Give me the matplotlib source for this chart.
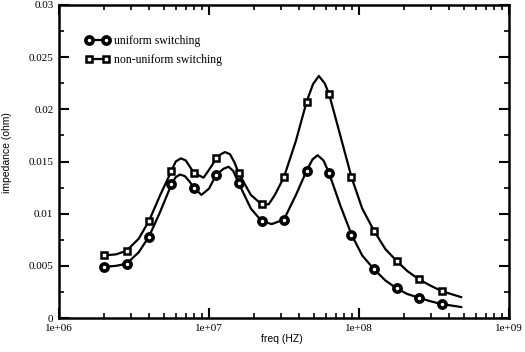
import matplotlib
matplotlib.use("Agg")
import matplotlib.pyplot as plt
from matplotlib.lines import Line2D
from matplotlib.ticker import FixedLocator, LogLocator, NullFormatter, FixedFormatter

# ---------------- data ----------------
# marker positions (Hz)
f_markers = [2.0e6, 2.82e6, 3.98e6, 5.62e6, 7.94e6, 1.12e7, 1.58e7, 2.24e7,
             3.16e7, 4.47e7, 6.31e7, 8.91e7, 1.26e8, 1.78e8, 2.51e8, 3.55e8]
uniform_markers = [0.0049, 0.0052, 0.0078, 0.0128, 0.0125, 0.01375, 0.0129, 0.0093,
                   0.00944, 0.0141, 0.0139, 0.0080, 0.00466, 0.00284, 0.00194, 0.00134]
nonuniform_markers = [0.0060, 0.00644, 0.0093, 0.0141, 0.01394, 0.0153, 0.01385, 0.0109,
                      0.0135, 0.0207, 0.0215, 0.01352, 0.00835, 0.00548, 0.0037, 0.00258]

# smooth curves (Hz, ohm)
f_uniform_curve = [2.0e6, 2.4e6, 2.82e6, 3.4e6, 3.98e6, 4.7e6, 5.62e6, 6.0e6, 6.4e6, 6.9e6,
                   7.4e6, 7.94e6, 8.9e6, 1.0e7, 1.12e7, 1.25e7, 1.35e7, 1.45e7, 1.58e7,
                   1.9e7, 2.24e7, 2.62e7, 3.16e7, 3.8e7, 4.47e7, 4.9e7, 5.3e7, 5.8e7,
                   6.31e7, 7.5e7, 8.91e7, 1.05e8, 1.26e8, 1.5e8, 1.78e8, 2.1e8, 2.51e8,
                   3.0e8, 3.55e8, 4.8e8]
v_uniform_curve = [0.0049, 0.0050, 0.0052, 0.0063, 0.0078, 0.0101, 0.0128, 0.0135, 0.01375,
                   0.0136, 0.0131, 0.0125, 0.0118, 0.0124, 0.01375, 0.0143, 0.0145, 0.0141,
                   0.0129, 0.0105, 0.0093, 0.0090, 0.00944, 0.0118, 0.0141, 0.0152, 0.0156,
                   0.0151, 0.0139, 0.0108, 0.0080, 0.0060, 0.00466, 0.0036, 0.00284, 0.0023,
                   0.00194, 0.0016, 0.00134, 0.00105]

f_nonuniform_curve = [2.0e6, 2.4e6, 2.82e6, 3.4e6, 3.98e6, 4.7e6, 5.62e6, 6.0e6, 6.5e6, 7.0e6,
                      7.94e6, 9.2e6, 1.0e7, 1.12e7, 1.2e7, 1.28e7, 1.38e7, 1.48e7, 1.58e7,
                      1.9e7, 2.24e7, 2.5e7, 2.75e7, 3.16e7, 3.8e7, 4.47e7, 4.93e7, 5.4e7,
                      5.9e7, 6.31e7, 7.5e7, 8.91e7, 1.05e8, 1.26e8, 1.5e8, 1.78e8, 2.1e8,
                      2.51e8, 3.0e8, 3.55e8, 4.8e8]
v_nonuniform_curve = [0.0060, 0.0061, 0.00644, 0.0076, 0.0093, 0.0117, 0.0141, 0.0150, 0.0153,
                      0.0151, 0.0139, 0.01345, 0.0142, 0.0153, 0.0157, 0.0159, 0.0157, 0.0149,
                      0.01385, 0.0118, 0.0109, 0.0109, 0.0118, 0.0135, 0.0170, 0.0207, 0.0224,
                      0.0232, 0.0225, 0.0215, 0.0175, 0.0135, 0.0105, 0.00835, 0.0066, 0.00548,
                      0.0045, 0.0037, 0.0031, 0.00258, 0.0020]

series_labels = ["uniform switching", "non-uniform switching"]
x_tick_values = [1e6, 1e7, 1e8, 1e9]
x_tick_labels = ["1e+06", "1e+07", "1e+08", "1e+09"]
y_tick_values = [0, 0.005, 0.01, 0.015, 0.02, 0.025, 0.03]
y_tick_labels = ["0", "0.005", "0.01", "0.015", "0.02", "0.025", "0.03"]
x_label = "freq (HZ)"
y_label = "impedance (ohm)"

# ---------------- drawing ----------------
serif = ["Liberation Serif", "DejaVu Serif"]
sans = ["Liberation Sans", "DejaVu Sans"]

fig = plt.figure(figsize=(5.25, 3.52), dpi=100)
ax = fig.add_axes([59/525, 1-318/352, 450/525, 313/352])

lw = 1.6
circ = dict(marker="o", ms=5.2, mfc="white", mec="black", mew=2.6)
sq = dict(marker="s", ms=4.6, mfc="white", mec="black", mew=1.8)

ax.plot(f_uniform_curve, v_uniform_curve, color="black", lw=lw, zorder=2,
        solid_joinstyle="round")
ax.plot(f_nonuniform_curve, v_nonuniform_curve, color="black", lw=lw, zorder=2,
        solid_joinstyle="round")
ax.plot(f_markers, uniform_markers, ls="none", zorder=3, **circ)
ax.plot(f_markers, nonuniform_markers, ls="none", zorder=3, **sq)

ax.set_xscale("log")
ax.set_xlim(1e6, 1e9)
ax.set_ylim(0, 0.03)

ax.xaxis.set_major_locator(FixedLocator(x_tick_values))
ax.xaxis.set_major_formatter(FixedFormatter(x_tick_labels))
ax.xaxis.set_minor_locator(LogLocator(base=10, subs=range(2, 10)))
ax.xaxis.set_minor_formatter(NullFormatter())
ax.yaxis.set_major_locator(FixedLocator(y_tick_values))
ax.yaxis.set_major_formatter(FixedFormatter(y_tick_labels))
ax.yaxis.set_minor_locator(FixedLocator([0.0025, 0.0075, 0.0125, 0.0175, 0.0225, 0.0275]))

ax.tick_params(which="both", direction="in", top=True, right=True, color="black")
ax.tick_params(which="major", length=7, width=1.5)
ax.tick_params(axis="y", which="major", pad=4)
ax.tick_params(axis="x", which="major", pad=4.5)
ax.tick_params(which="minor", length=3.5, width=1.2)
for lab in ax.get_xticklabels() + ax.get_yticklabels():
    lab.set_family(serif)
    lab.set_fontsize(8)
for sp in ax.spines.values():
    sp.set_linewidth(1.8)

ax.set_xlabel(x_label, family=sans, fontsize=7.5)
ax.set_ylabel(y_label, family=sans, fontsize=7.5)
ax.xaxis.set_label_coords(0.495, -0.05)
ax.yaxis.set_label_coords(-0.105, 0.53)

handles = [
    Line2D([], [], color="black", lw=lw, **circ),
    Line2D([], [], color="black", lw=lw, **sq),
]
leg = ax.legend(handles, series_labels, loc="upper left", bbox_to_anchor=(0.058, 0.905),
                frameon=False, numpoints=2, handlelength=2.1, handletextpad=0.35,
                labelspacing=0.6, borderpad=0, borderaxespad=0,
                prop={"family": serif, "size": 8.5})

fig.savefig("out.png", dpi=100)
